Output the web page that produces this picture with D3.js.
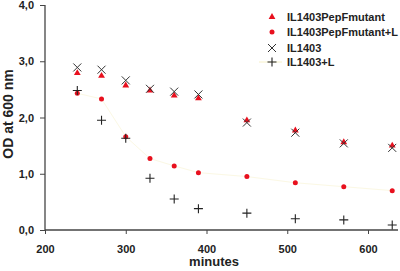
<!DOCTYPE html>
<html><head><meta charset="utf-8">
<script src="https://cdn.jsdelivr.net/npm/d3@7"></script>
<style>body{margin:0;background:#fff}svg{display:block}text{font-family:"Liberation Sans",Arial,sans-serif;font-weight:bold}</style>
</head><body><svg id="c" width="400" height="271"></svg>
<script>
const minutes = [240, 270, 300, 330, 360, 390, 450, 510, 570, 630];
const mutant = [2.79, 2.74, 2.57, 2.48, 2.39, 2.34, 1.95, 1.77, 1.56, 1.50];
const mutantL = [2.43, 2.33, 1.66, 1.27, 1.14, 1.02, 0.95, 0.84, 0.77, 0.70];
const wt = [2.89, 2.85, 2.66, 2.51, 2.46, 2.41, 1.91, 1.73, 1.54, 1.46];
const wtL = [2.48, 1.95, 1.63, 0.92, 0.55, 0.38, 0.30, 0.20, 0.18, 0.09];
const xTicks = [200, 300, 400, 500, 600];
const yTicks = [0, 1, 2, 3, 4];
const seriesNames = ["IL1403PepFmutant", "IL1403PepFmutant+L", "IL1403", "IL1403+L"];

const svg = d3.select("#c");
const x = d3.scaleLinear().domain([200, 600]).range([45, 368]);
const y = d3.scaleLinear().domain([0, 4]).range([230, 5]);
const axisColor = "#444";

// faint trend line
svg.append("path").datum(minutes.map((m,i)=>[m, mutantL[i]]))
  .attr("fill","none").attr("stroke","#fbf8e4").attr("stroke-width",1)
  .attr("d", d3.line().x(d=>x(d[0])).y(d=>y(d[1])));

const xa = svg.append("g").attr("transform","translate(0,230)")
  .call(d3.axisBottom(x).tickValues(xTicks).tickSize(4).tickFormat(d3.format("d")));
xa.select(".domain").attr("d","M45,0H398").attr("stroke",axisColor).attr("stroke-width",1.3);
xa.selectAll(".tick line").attr("stroke",axisColor);
xa.selectAll("text").attr("font-size",11).attr("fill","#222").attr("dy","1.45em");

const ya = svg.append("g").attr("transform","translate(45,0)")
  .call(d3.axisLeft(y).tickValues(yTicks).tickSize(5).tickFormat(d=>d3.format(".1f")(d).replace(".",",")));
ya.select(".domain").attr("d","M0,5V230").attr("stroke",axisColor).attr("stroke-width",1.3);
ya.selectAll(".tick line").attr("stroke",axisColor);
ya.selectAll("text").attr("font-size",11).attr("fill","#222").attr("x",-11);

svg.append("text").attr("x",214).attr("y",266).attr("text-anchor","middle").attr("font-size",13).attr("fill","#222").text("minutes");
svg.append("text").attr("transform","translate(13,114) rotate(-90)").attr("text-anchor","middle").attr("font-size",14).attr("fill","#222").text("OD at 600 nm");

const red = "#e8101e";
const tri = d3.symbol().type(d3.symbolTriangle).size(20);
function drawTri(g, cx, cy){ g.append("path").attr("d",tri()).attr("transform",`translate(${cx},${cy})`).attr("fill",red); }
function drawCirc(g, cx, cy){ g.append("circle").attr("cx",cx).attr("cy",cy).attr("r",2.5).attr("fill",red); }
function drawX(g, cx, cy){ const s=4; g.append("path").attr("d",`M${cx-s},${cy-s}L${cx+s},${cy+s}M${cx-s},${cy+s}L${cx+s},${cy-s}`).attr("stroke","#333").attr("stroke-width",1); }
function drawPlus(g, cx, cy){ const s=4.5; g.append("path").attr("d",`M${cx-s},${cy}H${cx+s}M${cx},${cy-s}V${cy+s}`).attr("stroke","#222").attr("stroke-width",1.1); }

const g = svg.append("g");
minutes.forEach((m,i)=>drawCirc(g, x(m), y(mutantL[i])));
minutes.forEach((m,i)=>drawTri(g, x(m), y(mutant[i])));
minutes.forEach((m,i)=>drawX(g, x(m), y(wt[i])));
minutes.forEach((m,i)=>drawPlus(g, x(m), y(wtL[i])));

// legend
const lg = svg.append("g");
const ly = [17, 32, 48, 62];
const drawers = [drawTri, drawCirc, drawX, drawPlus];
lg.append("line").attr("x1",259).attr("x2",282).attr("y1",ly[3]).attr("y2",ly[3]).attr("stroke","#f6f0c8");
seriesNames.forEach((n,i)=>{
  drawers[i](lg, 272, ly[i]);
  lg.append("text").attr("x",287).attr("y",ly[i]+4).attr("font-size",11).attr("fill","#222").text(n);
});
</script></body></html>
